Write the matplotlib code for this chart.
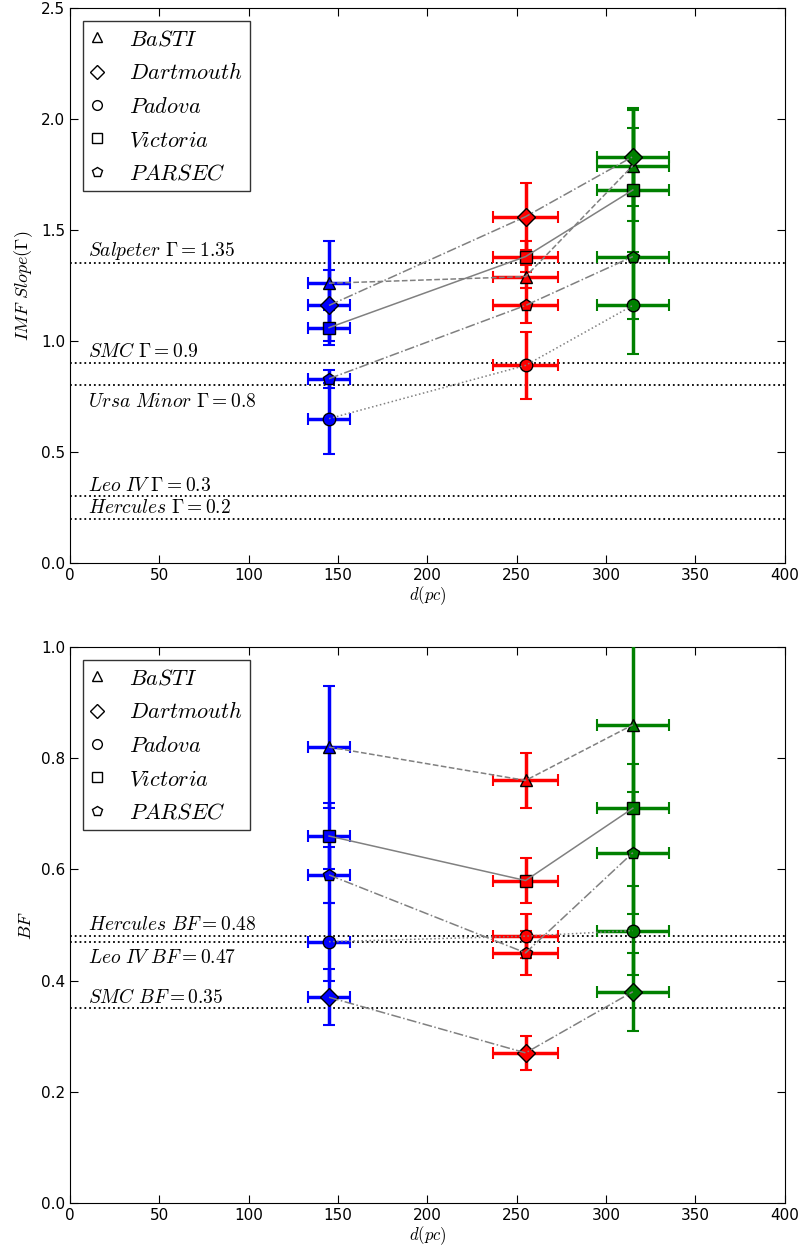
import numpy as np
import matplotlib
matplotlib.use("Agg")
import matplotlib.pyplot as plt
from matplotlib.lines import Line2D

plt.rcParams['mathtext.fontset'] = 'cm'
plt.rcParams['xtick.direction'] = 'in'
plt.rcParams['ytick.direction'] = 'in'
plt.rcParams['xtick.top'] = True
plt.rcParams['ytick.right'] = True
plt.rcParams['xtick.major.size'] = 6
plt.rcParams['ytick.major.size'] = 6

# distances of the three clusters and their errors
dist = [145, 255, 315]
dist_err = [12, 18, 20]
colors = ['blue', 'red', 'green']

models = ['BaSTI', 'Dartmouth', 'Padova', 'Victoria', 'PARSEC']
markers = ['^', 'D', 'o', 's', 'p']
styles = ['--', '-.', ':', '-', '-.']

# IMF slope per model, ordered by distance
imf_basti = [1.26, 1.29, 1.79]
imf_dart = [1.16, 1.56, 1.83]
imf_padova = [0.65, 0.89, 1.16]
imf_victoria = [1.06, 1.38, 1.68]
imf_parsec = [0.83, 1.16, 1.38]
imf_err_basti = [0.19, 0.05, 0.25]
imf_err_dart = [0.16, 0.15, 0.22]
imf_err_padova = [0.16, 0.15, 0.22]
imf_err_victoria = [0.08, 0.07, 0.28]
imf_err_parsec = [0.04, 0.08, 0.28]

# binary fraction per model
bf_basti = [0.82, 0.76, 0.86]
bf_dart = [0.37, 0.27, 0.38]
bf_padova = [0.47, 0.48, 0.49]
bf_victoria = [0.66, 0.58, 0.71]
bf_parsec = [0.59, 0.45, 0.63]
bf_err_basti = [0.11, 0.05, 0.15]
bf_err_dart = [0.05, 0.03, 0.07]
bf_err_padova = [0.07, 0.04, 0.08]
bf_err_victoria = [0.06, 0.04, 0.08]
bf_err_parsec = [0.05, 0.04, 0.11]

# reference values from other systems
imf_ref_names = ['Salpeter', 'SMC', 'Ursa\\ Minor', 'Leo\\ IV', 'Hercules']
imf_ref_vals = [1.35, 0.9, 0.8, 0.3, 0.2]
imf_ref_below = [False, False, True, False, False]
bf_ref_names = ['Hercules', 'Leo\\ IV', 'SMC']
bf_ref_vals = [0.48, 0.47, 0.35]
bf_ref_below = [False, True, False]

imf = [imf_basti, imf_dart, imf_padova, imf_victoria, imf_parsec]
imf_err = [imf_err_basti, imf_err_dart, imf_err_padova, imf_err_victoria, imf_err_parsec]
bf = [bf_basti, bf_dart, bf_padova, bf_victoria, bf_parsec]
bf_err = [bf_err_basti, bf_err_dart, bf_err_padova, bf_err_victoria, bf_err_parsec]


def panel(ax, vals, errs, ref_names, ref_vals, ref_below, qty, ylim, yticks, ylabel):
    for m in range(len(models)):
        for i in range(len(dist)):
            ax.errorbar(dist[i], vals[m][i], xerr=dist_err[i], yerr=errs[m][i],
                        fmt=markers[m], color=colors[i], mfc=colors[i], mec='black',
                        ms=9, elinewidth=2.5, capsize=4, capthick=1.5, zorder=3)
        ax.plot(dist, vals[m], ls=styles[m], color='gray', lw=1.1, zorder=4)

    for name, v, below in zip(ref_names, ref_vals, ref_below):
        ax.axhline(v, color='black', ls=':', lw=1.3, zorder=2)
        off = -0.012 * ylim[1] if below else 0.003 * ylim[1]
        ax.text(10, v + off, r'$%s\ %s=%s$' % (name, qty, v),
                fontsize=14, va='top' if below else 'bottom', ha='left')

    handles = [Line2D([], [], marker=mk, ls='none', mfc='white', mec='black', ms=7)
               for mk in markers]
    leg = ax.legend(handles, [r'$%s$' % n for n in models], loc='upper left',
                    fontsize=16, numpoints=1, fancybox=False, handlelength=0.5,
                    borderpad=0.35, labelspacing=0.6, handletextpad=1.2,
                    borderaxespad=0.6)
    leg.get_frame().set_edgecolor('black')
    leg.get_frame().set_linewidth(1.0)

    ax.set_xlim(0, 400)
    ax.set_ylim(*ylim)
    ax.set_yticks(yticks)
    ax.set_xticks(np.arange(0, 401, 50))
    ax.set_xlabel(r'$d(pc)$', fontsize=12, labelpad=1)
    ax.set_ylabel(ylabel, fontsize=13)
    ax.tick_params(labelsize=11)


fig = plt.figure(figsize=(8.04, 12.58), dpi=100)
ax1 = fig.add_axes([0.087, 0.5525, 0.889, 0.4412])
ax2 = fig.add_axes([0.087, 0.0437, 0.889, 0.442])

panel(ax1, imf, imf_err, imf_ref_names, imf_ref_vals, imf_ref_below, r'\Gamma',
      (0, 2.5), np.arange(0, 2.51, 0.5), r'$IMF\ Slope(\Gamma)$')
panel(ax2, bf, bf_err, bf_ref_names, bf_ref_vals, bf_ref_below, 'BF',
      (0, 1.0), np.arange(0, 1.01, 0.2), r'$BF$')

ax1.yaxis.set_major_formatter(matplotlib.ticker.FormatStrFormatter('%.1f'))
ax2.yaxis.set_major_formatter(matplotlib.ticker.FormatStrFormatter('%.1f'))

fig.savefig('out.png', dpi=100)
